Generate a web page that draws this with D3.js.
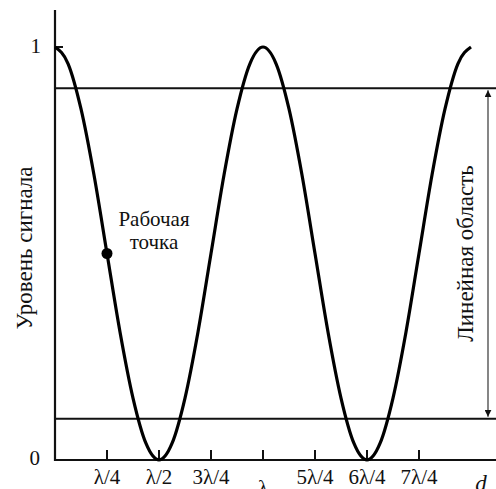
<!DOCTYPE html>
<html>
<head>
<meta charset="utf-8">
<script src="https://cdn.jsdelivr.net/npm/d3@7"></script>
<style>
  body { margin: 0; background: #fff; }
</style>
</head>
<body>
<div id="main"></div>
<script>
// d in quarter-wavelength units, signal level 0..1 every λ/16
var dSteps = [0, 0.25, 0.5, 0.75, 1, 1.25, 1.5, 1.75, 2, 2.25, 2.5, 2.75, 3, 3.25, 3.5, 3.75,
              4, 4.25, 4.5, 4.75, 5, 5.25, 5.5, 5.75, 6, 6.25, 6.5, 6.75, 7, 7.25, 7.5, 7.75, 8];
var levels = [1, 0.96, 0.85, 0.69, 0.5, 0.31, 0.15, 0.04, 0, 0.04, 0.15, 0.31, 0.5, 0.69, 0.85, 0.96,
              1, 0.96, 0.85, 0.69, 0.5, 0.31, 0.15, 0.04, 0, 0.04, 0.15, 0.31, 0.5, 0.69, 0.85, 0.96, 1];
var tickPos = [1, 2, 3, 4, 5, 6, 7];
var tickLabels = ['λ/4', 'λ/2', '3λ/4', 'λ', '5λ/4', '6λ/4', '7λ/4'];
var linearBand = [0.1, 0.9];
var workPoint = [1, 0.5];

var width = 496, height = 489;
var x0 = 55, yAxisTop = 10, yZero = 460, yOne = 47;
var serif = '"Times New Roman", Times, "Liberation Serif", "DejaVu Serif", serif';

var svg = d3.select('#main').append('svg')
    .attr('width', width).attr('height', height)
    .style('font-family', serif);

var x = d3.scaleLinear().domain([0, 8]).range([x0, x0 + 8 * 52]);
var y = d3.scaleLinear().domain([0, 1]).range([yZero, yOne]);

// horizontal limits of the linear region
svg.selectAll('line.band').data(linearBand).enter().append('line')
    .attr('class', 'band')
    .attr('x1', x0).attr('x2', width)
    .attr('y1', function(d) { return y(d); }).attr('y2', function(d) { return y(d); })
    .attr('stroke', '#111').attr('stroke-width', 2);

// axes
svg.append('line')
    .attr('x1', x0).attr('x2', x0).attr('y1', yAxisTop).attr('y2', yZero + 1)
    .attr('stroke', '#111').attr('stroke-width', 2.2);
svg.append('line')
    .attr('x1', x0 - 1).attr('x2', width).attr('y1', yZero).attr('y2', yZero)
    .attr('stroke', '#111').attr('stroke-width', 2.2);

// x ticks
svg.selectAll('line.tick').data(tickPos).enter().append('line')
    .attr('class', 'tick')
    .attr('x1', function(d) { return x(d); }).attr('x2', function(d) { return x(d); })
    .attr('y1', yZero).attr('y2', yZero - 10)
    .attr('stroke', '#111').attr('stroke-width', 2);
// y tick at 1
svg.append('line')
    .attr('x1', x0).attr('x2', x0 + 8).attr('y1', y(1)).attr('y2', y(1))
    .attr('stroke', '#111').attr('stroke-width', 2);

svg.selectAll('text.xl').data(tickPos).enter().append('text')
    .attr('class', 'xl')
    .attr('x', function(d) { return x(d); })
    .attr('y', function(d, i) { return tickLabels[i] === 'λ' ? 495 : 484; })
    .attr('text-anchor', 'middle')
    .attr('font-size', 21).attr('fill', '#111')
    .text(function(d, i) { return tickLabels[i]; });

svg.append('text').attr('x', 481).attr('y', 491)
    .attr('text-anchor', 'middle').attr('font-size', 23).attr('font-style', 'italic')
    .attr('fill', '#111').text('d');

svg.append('text').attr('x', 40).attr('y', y(0) + 5)
    .attr('text-anchor', 'end').attr('font-size', 21).attr('fill', '#111').text('0');
svg.append('text').attr('x', 41).attr('y', y(1) + 6)
    .attr('text-anchor', 'end').attr('font-size', 21).attr('fill', '#111').text('1');

// y axis title
svg.append('text')
    .attr('transform', 'translate(32,248) rotate(-90)')
    .attr('text-anchor', 'middle').attr('font-size', 23).attr('fill', '#111')
    .text('Уровень сигнала');

// curve
var line = d3.line()
    .x(function(d, i) { return x(dSteps[i]); })
    .y(function(d) { return y(d); })
    .curve(d3.curveMonotoneX);
svg.append('path').datum(levels)
    .attr('d', line)
    .attr('fill', 'none').attr('stroke', '#000').attr('stroke-width', 3.2);

// working point
svg.append('circle')
    .attr('cx', x(workPoint[0])).attr('cy', y(workPoint[1])).attr('r', 5.5)
    .attr('fill', '#000');
svg.append('text').attr('x', 154).attr('y', 226)
    .attr('text-anchor', 'middle').attr('font-size', 21).attr('fill', '#111').text('Рабочая');
svg.append('text').attr('x', 154).attr('y', 249)
    .attr('text-anchor', 'middle').attr('font-size', 21).attr('fill', '#111').text('точка');

// linear region arrow
var defs = svg.append('defs');
defs.append('marker').attr('id', 'ah')
    .attr('viewBox', '0 0 10 10').attr('refX', 10).attr('refY', 5)
    .attr('markerWidth', 7).attr('markerHeight', 7).attr('orient', 'auto-start-reverse')
    .attr('markerUnits', 'userSpaceOnUse')
    .append('path').attr('d', 'M0,0 L10,5 L0,10 z').attr('fill', '#111');
svg.append('line')
    .attr('x1', 488).attr('x2', 488)
    .attr('y1', y(linearBand[1]) + 2).attr('y2', y(linearBand[0]) - 2)
    .attr('stroke', '#444').attr('stroke-width', 1.3)
    .attr('marker-start', 'url(#ah)').attr('marker-end', 'url(#ah)');
svg.append('text')
    .attr('transform', 'translate(473,' + (y(0.5)) + ') rotate(-90)')
    .attr('text-anchor', 'middle').attr('font-size', 23).attr('fill', '#111')
    .text('Линейная область');
</script>
</body>
</html>
